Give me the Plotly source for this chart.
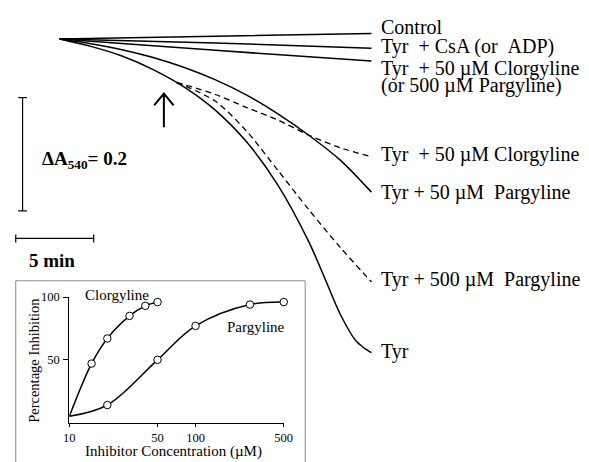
import plotly.graph_objects as go
import numpy as np

# ---------------- data: main recordings (time in min, change in A540) ----------------
t_full = [0, 2, 4, 6, 8, 10, 12, 14, 16, 17, 18, 19, 19.5, 20]
tyr = [0, -0.013, -0.030, -0.054, -0.085, -0.126, -0.182, -0.258, -0.359, -0.422,
       -0.486, -0.533, -0.545, -0.554]

t_par50 = [0, 2, 4, 6, 8, 10, 12, 14, 16, 18, 20]
tyr_par50 = [0, -0.0082, -0.0188, -0.0327, -0.0504, -0.0722, -0.0991, -0.1322, -0.1704,
             -0.2139, -0.2704]

t_branch = [7.5, 10, 12, 14, 16, 18, 20]
tyr_par500 = [-0.0765, -0.110, -0.163, -0.232, -0.302, -0.368, -0.429]
tyr_clor50_late = [-0.0765, -0.098, -0.121, -0.143, -0.170, -0.192, -0.208]

t_lin = [0, 10, 20]
control = [0, 0.005, 0.0096]
tyr_csa = [0, -0.007, -0.0165]
tyr_clor50_early = [0, -0.020, -0.039]

# ---------------- data: inset (dose response) ----------------
clor_conc = [15, 20, 30, 40, 50]
clor_inh = [47, 67, 85, 93, 96]
par_conc = [20, 50, 100, 270, 500]
par_inh = [14, 50, 77, 94, 96]
start_conc = 10
start_inh = 5
x_ticks = [10, 50, 100, 500]
y_ticks = [50, 100]

labels = [
    ("Control", 20),
    ("Tyr\u00a0\u00a0+ CsA (or\u00a0\u00a0ADP)", 40),
    ("Tyr\u00a0\u00a0+ 50 \u00b5M Clorgyline", 62),
    ("(or 500 \u00b5M Pargyline)", 80),
    ("Tyr\u00a0\u00a0+ 50 \u00b5M Clorgyline", 150),
    ("Tyr + 50 \u00b5M\u00a0\u00a0Pargyline", 188),
    ("Tyr + 500 \u00b5M\u00a0\u00a0Pargyline", 277),
    ("Tyr", 350),
]

W, H = 589, 462
PX_PER_MIN = 16.0
PX_PER_A = 575.0
X0, Y0 = 55.0, 32.5
SERIF = "Liberation Serif, Times New Roman, serif"


def px(x):
    return x / W


def py(y):
    return 1 - y / H


def t_of(xpix):
    return (xpix - X0) / PX_PER_MIN


def a_of(ypix):
    return (Y0 - ypix) / PX_PER_A


fig = go.Figure()
solid = dict(color="black", width=1.5, shape="spline", smoothing=0.8)
dashed = dict(color="black", width=1.3, shape="spline", smoothing=0.8, dash="6px,4px")

for tx, yv, ln in [
    (t_lin, control, solid),
    (t_lin, tyr_csa, solid),
    (t_lin, tyr_clor50_early, solid),
    (t_par50, tyr_par50, solid),
    (t_full, tyr, solid),
    (t_branch, tyr_par500, dashed),
    (t_branch, tyr_clor50_late, dashed),
]:
    fig.add_trace(go.Scatter(x=tx, y=yv, mode="lines", line=ln, xaxis="x", yaxis="y",
                             hoverinfo="skip"))

# inset curves
for xs, ys in [([start_conc] + clor_conc, [start_inh] + clor_inh),
               ([start_conc] + par_conc, [start_inh] + par_inh)]:
    fig.add_trace(go.Scatter(x=xs, y=ys, mode="lines",
                             line=dict(color="black", width=1.5, shape="spline", smoothing=1),
                             xaxis="x2", yaxis="y2", cliponaxis=False, hoverinfo="skip"))
fig.add_trace(go.Scatter(x=clor_conc + par_conc, y=clor_inh + par_inh, mode="markers",
                         marker=dict(symbol="circle", size=7.5, color="white",
                                     line=dict(width=1, color="black")),
                         xaxis="x2", yaxis="y2", cliponaxis=False, hoverinfo="skip"))

shapes = []
# inset border
shapes.append(dict(type="rect", xref="paper", yref="paper", x0=px(10), x1=px(307),
                   y0=py(470), y1=py(278), line=dict(color="#8a8a8a", width=1), layer="below"))
# vertical scale bar 0.2 A
vb_x = t_of(17)
vb_top, vb_bot = a_of(92), a_of(92) - 0.2
shapes.append(dict(type="line", xref="x", yref="y", x0=vb_x, x1=vb_x, y0=vb_top, y1=vb_bot,
                   line=dict(color="black", width=1.2)))
for yy in (vb_top, vb_bot):
    shapes.append(dict(type="line", xref="x", yref="y", x0=vb_x - 0.28, x1=vb_x + 0.28,
                       y0=yy, y1=yy, line=dict(color="black", width=1.2)))
# horizontal scale bar 5 min
hb_y = a_of(235)
hb_l = t_of(10)
hb_r = hb_l + 5
shapes.append(dict(type="line", xref="x", yref="y", x0=hb_l, x1=hb_r, y0=hb_y, y1=hb_y,
                   line=dict(color="black", width=1.2)))
for xx in (hb_l, hb_r):
    shapes.append(dict(type="line", xref="x", yref="y", x0=xx, x1=xx, y0=hb_y - 0.007,
                       y1=hb_y + 0.007, line=dict(color="black", width=1.2)))
# arrow
shapes.append(dict(type="path", xref="paper", yref="paper",
                   path=f"M{px(162)},{py(122)} L{px(162)},{py(88)} M{px(152)},{py(100)} "
                        f"L{px(162)},{py(88)} L{px(172)},{py(100)}",
                   line=dict(color="black", width=2)))

annotations = []
for txt, ypix in labels:
    annotations.append(dict(text=txt, x=px(383), y=py(ypix), xref="paper", yref="paper",
                            xanchor="left", yanchor="middle", showarrow=False,
                            font=dict(family=SERIF, size=20, color="black")))
annotations.append(dict(text="<b>\u0394A<sub>540</sub>= 0.2</b>", x=px(35), y=py(155),
                        xref="paper", yref="paper", xanchor="left", yanchor="middle",
                        showarrow=False, font=dict(family=SERIF, size=19, color="black")))
annotations.append(dict(text="<b>5 min</b>", x=px(22), y=py(257), xref="paper", yref="paper",
                        xanchor="left", yanchor="middle", showarrow=False,
                        font=dict(family=SERIF, size=19, color="black")))
annotations.append(dict(text="Clorgyline", x=px(113.5), y=py(292), xref="paper", yref="paper",
                        xanchor="center", yanchor="middle", showarrow=False,
                        font=dict(family=SERIF, size=15, color="black")))
annotations.append(dict(text="Pargyline", x=px(256.5), y=py(325), xref="paper", yref="paper",
                        xanchor="center", yanchor="middle", showarrow=False,
                        font=dict(family=SERIF, size=15, color="black")))
annotations.append(dict(text="Inhibitor Concentration (\u00b5M)", x=px(171.5), y=py(451),
                        xref="paper", yref="paper", xanchor="center", yanchor="middle",
                        showarrow=False, font=dict(family=SERIF, size=15, color="black")))
annotations.append(dict(text="Percentage Inhibition", x=px(28), y=py(359), xref="paper",
                        yref="paper", xanchor="center", yanchor="middle", textangle=-90,
                        showarrow=False, font=dict(family=SERIF, size=14.5, color="black")))

fig.update_layout(
    width=W, height=H, margin=dict(l=0, r=0, t=0, b=0),
    paper_bgcolor="white", plot_bgcolor="rgba(0,0,0,0)", showlegend=False,
    xaxis=dict(domain=[0, 1], range=[t_of(0), t_of(W)], visible=False, fixedrange=True),
    yaxis=dict(domain=[0, 1], range=[a_of(H), a_of(0)], visible=False, fixedrange=True),
    xaxis2=dict(domain=[px(65), px(285)], anchor="y2", type="log",
                range=[np.log10(10), np.log10(500)], showline=True, linecolor="black",
                linewidth=1, ticks="outside", ticklen=3, tickcolor="black",
                tickvals=x_ticks, ticktext=[str(v) for v in x_ticks], showgrid=False,
                zeroline=False, ticklabelstandoff=0,
                tickfont=dict(family=SERIF, size=12.5, color="black")),
    yaxis2=dict(domain=[py(422), py(294.5)], anchor="x2", range=[0, 100], showline=True,
                linecolor="black", linewidth=1, ticks="outside", ticklen=5,
                tickcolor="black", tickvals=y_ticks, ticktext=[str(v) for v in y_ticks],
                showgrid=False, zeroline=False, ticklabelstandoff=1,
                tickfont=dict(family=SERIF, size=12.5, color="black")),
    shapes=shapes, annotations=annotations,
)

fig.write_html("out.html")
